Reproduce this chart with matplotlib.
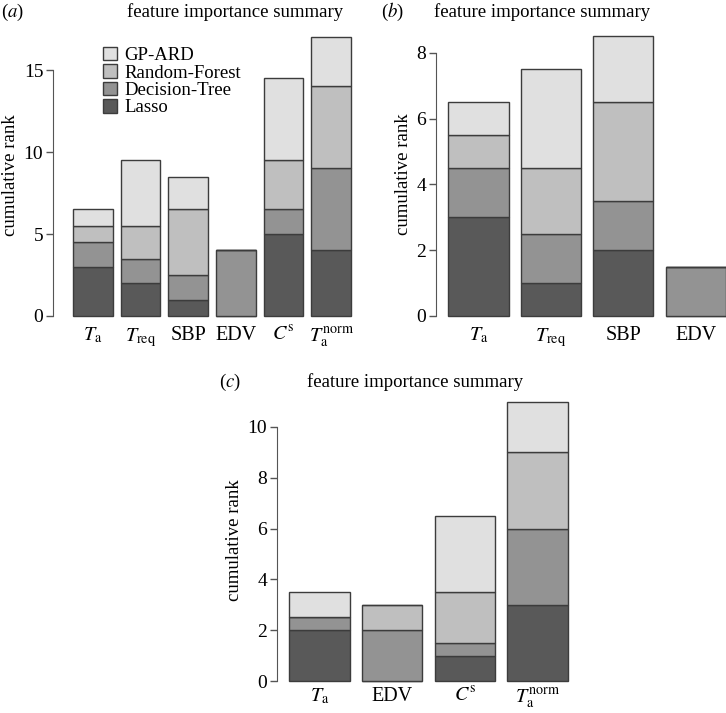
import matplotlib
matplotlib.use("Agg")
import matplotlib.pyplot as plt
import numpy as np

plt.rcParams['font.family'] = ['Liberation Serif', 'DejaVu Serif']
plt.rcParams['mathtext.fontset'] = 'stix'

# method names and fill colours (bottom to top of each stack)
methods = ["Lasso", "Decision-Tree", "Random-Forest", "GP-ARD"]
colors = ["#595959", "#939393", "#bfbfbf", "#e0e0e0"]

# panel (a)
labels_a = [r"$T_{\mathrm{a}}$", r"$T_{\mathrm{req}}$", "SBP", "EDV", r"$C^{\mathrm{s}}$", r"$T_{\mathrm{a}}^{\mathrm{norm}}$"]
lasso_a = [3, 2, 1, 0, 5, 4]
dtree_a = [1.5, 1.5, 1.5, 4, 1.5, 5]
rforest_a = [1, 2, 4, 0, 3, 5]
gpard_a = [1, 4, 2, 0, 5, 3]
yticks_a = [0, 5, 10, 15]

# panel (b)
labels_b = [r"$T_{\mathrm{a}}$", r"$T_{\mathrm{req}}$", "SBP", "EDV"]
lasso_b = [3, 1, 2, 0]
dtree_b = [1.5, 1.5, 1.5, 1.5]
rforest_b = [1, 2, 3, 0]
gpard_b = [1, 3, 2, 0]
yticks_b = [0, 2, 4, 6, 8]

# panel (c)
labels_c = [r"$T_{\mathrm{a}}$", "EDV", r"$C^{\mathrm{s}}$", r"$T_{\mathrm{a}}^{\mathrm{norm}}$"]
lasso_c = [2, 0, 1, 3]
dtree_c = [0.5, 2, 0.5, 3]
rforest_c = [0, 1, 2, 3]
gpard_c = [1, 0, 3, 2]
yticks_c = [0, 2, 4, 6, 8, 10]

W, H = 726, 713
fig = plt.figure(figsize=(W / 100, H / 100), dpi=100)


def rect(l, r, t, b):
    return [l / W, 1 - b / H, (r - l) / W, (b - t) / H]


def panel(box, xlim, ylim, labels, series, yticks, legend=False, xpad=7):
    ax = fig.add_axes(box)
    x = 0.7 + 1.2 * np.arange(len(labels))
    bottom = np.zeros(len(labels))
    for vals, col, name in zip(series, colors, methods):
        vals = np.array(vals, dtype=float)
        ax.bar(x, vals, width=1.0, bottom=bottom, color=col, edgecolor="#3c3c3c",
               linewidth=1.0, label=name, clip_on=False)
        bottom += vals
    ax.set_xlim(*xlim)
    ax.set_ylim(*ylim)
    ax.set_xticks(x)
    ax.set_xticklabels(labels, fontsize=14.5)
    ax.tick_params(axis="x", length=0, pad=xpad)
    ax.set_yticks(yticks)
    ax.tick_params(axis="y", labelsize=14, length=5, width=1, color="#555555", pad=2)
    for s in ["top", "right", "bottom"]:
        ax.spines[s].set_visible(False)
    ax.spines["left"].set_bounds(yticks[0], yticks[-1])
    ax.spines["left"].set_color("#555555")
    ax.set_ylabel("cumulative rank", fontsize=13.5, labelpad=3)
    if legend:
        h, l = ax.get_legend_handles_labels()
        ax.legend(h[::-1], l[::-1], loc="upper left", bbox_to_anchor=(0.165, 0.955),
                  frameon=False, fontsize=13.5, handlelength=0.75, handleheight=0.75,
                  handletextpad=0.4, labelspacing=0.0, borderaxespad=0, borderpad=0)
    return ax


panel(rect(53, 355, 34, 316), (-0.30, 7.3), (0, 17.2), labels_a,
      [lasso_a, dtree_a, rforest_a, gpard_a], yticks_a, legend=True)
panel(rect(436, 726, 33, 316), (0.0, 4.8), (0, 8.6), labels_b,
      [lasso_b, dtree_b, rforest_b, gpard_b], yticks_b)
panel(rect(277, 580, 399, 681), (0.0, 5.0), (0, 11.1), labels_c,
      [lasso_c, dtree_c, rforest_c, gpard_c], yticks_c, xpad=4)

# titles and panel letters
for tx, ty, letter, lx in [(235, 12, "a", 13), (542, 12, "b", 392), (415, 382, "c", 230)]:
    fig.text(tx / W, 1 - ty / H, "feature importance summary", fontsize=13.5,
             ha="center", va="center")
    fig.text(lx / W, 1 - ty / H, r"($\mathit{" + letter + "}$)", fontsize=13.5,
             ha="center", va="center")

fig.savefig("out.png", dpi=100)
